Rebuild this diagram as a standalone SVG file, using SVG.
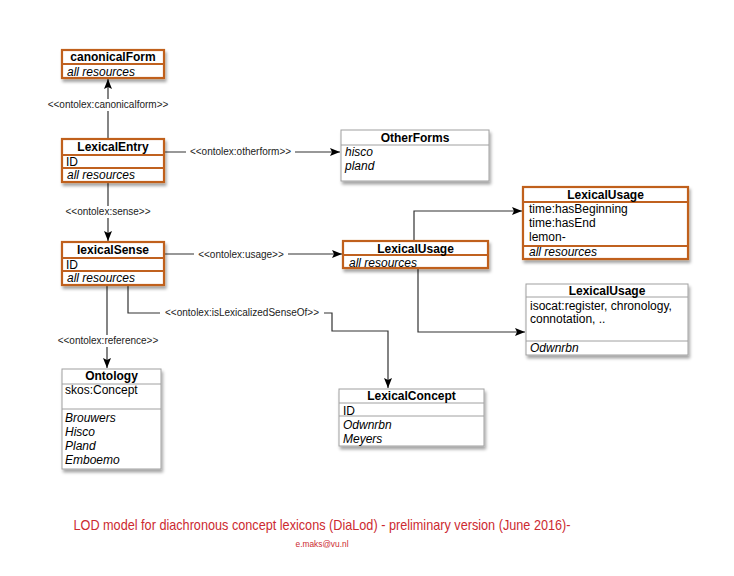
<svg xmlns="http://www.w3.org/2000/svg" width="734" height="576" viewBox="0 0 734 576">
<style>
  text { font-family: "Liberation Sans", Arial, Helvetica, sans-serif; fill: #000; }
  .t { font-size: 12px; font-weight: bold; text-anchor: middle; }
  .f { font-size: 12px; }
  .i { font-size: 12px; font-style: italic; }
  .lbl { font-size: 10px; text-anchor: middle; fill: #222; }
  .box-o { fill: #fff; stroke: #c0611f; stroke-width: 2.2; }
  .div-o { stroke: #c0611f; stroke-width: 2; }
  .box-g { fill: #fff; stroke: #a0a0a0; stroke-width: 1; }
  .div-g { stroke: #a0a0a0; stroke-width: 1; }
  .con { fill: none; stroke: #333; stroke-width: 1.2; }
  .bg { fill: #fff; }
  .cap { font-size: 15px; fill: #cc2a30; text-anchor: middle; }
  .mail { font-size: 9.5px; fill: #cc2a30; text-anchor: middle; }
</style>
<defs>
  <filter id="sh" x="-10%" y="-10%" width="125%" height="140%">
    <feDropShadow dx="1.5" dy="3" stdDeviation="1.8" flood-color="#000" flood-opacity="0.35"/>
  </filter>
  <marker id="arr" viewBox="0 0 10 8" refX="10" refY="4" markerWidth="10" markerHeight="8" markerUnits="userSpaceOnUse" orient="auto">
    <path d="M0,0 L10,4 L0,8 L2,4 z" fill="#000"/>
  </marker>
</defs>
<rect width="734" height="576" fill="#fff"/>

<g id="connectors">
  <path class="con" d="M108,139 V79" marker-end="url(#arr)"/>
  <rect class="bg" x="45" y="99" width="126" height="12"/>
  <text class="lbl" x="108" y="108">&lt;&lt;ontolex:canonicalform&gt;&gt;</text>

  <path class="con" d="M164,152 H340" marker-end="url(#arr)"/>
  <rect class="bg" x="186" y="146" width="109" height="12"/>
  <text class="lbl" x="240.5" y="155">&lt;&lt;ontolex:otherform&gt;&gt;</text>

  <path class="con" d="M108,182 V241" marker-end="url(#arr)"/>
  <rect class="bg" x="62" y="206" width="91" height="12"/>
  <text class="lbl" x="108" y="215">&lt;&lt;ontolex:sense&gt;&gt;</text>

  <path class="con" d="M164,254 H342" marker-end="url(#arr)"/>
  <rect class="bg" x="194" y="248" width="94" height="12"/>
  <text class="lbl" x="241" y="258">&lt;&lt;ontolex:usage&gt;&gt;</text>

  <path class="con" d="M414,241 V211 H522" marker-end="url(#arr)"/>
  <path class="con" d="M418,268 V332 H525" marker-end="url(#arr)"/>

  <path class="con" d="M107,285 V368" marker-end="url(#arr)"/>
  <rect class="bg" x="55" y="335" width="106" height="12"/>
  <text class="lbl" x="108" y="344">&lt;&lt;ontolex:reference&gt;&gt;</text>

  <path class="con" d="M128,285 V313 H332 V331 H388 V388" marker-end="url(#arr)"/>
  <rect class="bg" x="160" y="307" width="164" height="12"/>
  <text class="lbl" x="242" y="316">&lt;&lt;ontolex:isLexicalizedSenseOf&gt;&gt;</text>
</g>

<g id="canonicalForm">
  <rect class="box-o" x="62" y="50" width="102" height="28" filter="url(#sh)"/>
  <line class="div-o" x1="62" y1="64" x2="164" y2="64"/>
  <text class="t" x="113" y="61">canonicalForm</text>
  <text class="i" x="67" y="76">all resources</text>
</g>

<g id="LexicalEntry">
  <rect class="box-o" x="62" y="139" width="102" height="43" filter="url(#sh)"/>
  <line class="div-o" x1="62" y1="155" x2="164" y2="155"/>
  <line class="div-o" x1="62" y1="168" x2="164" y2="168"/>
  <text class="t" x="113" y="151">LexicalEntry</text>
  <text class="f" x="66" y="166">ID</text>
  <text class="i" x="67" y="179">all resources</text>
</g>

<g id="lexicalSense">
  <rect class="box-o" x="62" y="242" width="102" height="43" filter="url(#sh)"/>
  <line class="div-o" x1="62" y1="258" x2="164" y2="258"/>
  <line class="div-o" x1="62" y1="271" x2="164" y2="271"/>
  <text class="t" x="113" y="254">lexicalSense</text>
  <text class="f" x="66" y="269">ID</text>
  <text class="i" x="67" y="282">all resources</text>
</g>

<g id="OtherForms">
  <rect class="box-g" x="341" y="130" width="148" height="51" filter="url(#sh)"/>
  <line class="div-g" x1="341" y1="145" x2="489" y2="145"/>
  <text class="t" x="415" y="142">OtherForms</text>
  <text class="i" x="345" y="156">hisco</text>
  <text class="i" x="345" y="170">pland</text>
</g>

<g id="LexicalUsage1">
  <rect class="box-o" x="523" y="187" width="165" height="72" filter="url(#sh)"/>
  <line class="div-o" x1="523" y1="202" x2="688" y2="202"/>
  <line class="div-o" x1="523" y1="246" x2="688" y2="246"/>
  <text class="t" x="605.5" y="199">LexicalUsage</text>
  <text class="f" x="529" y="213">time:hasBeginning</text>
  <text class="f" x="529" y="227">time:hasEnd</text>
  <text class="f" x="529" y="241">lemon-</text>
  <text class="i" x="529" y="256">all resources</text>
</g>

<g id="LexicalUsage2">
  <rect class="box-o" x="343" y="241" width="145" height="27" filter="url(#sh)"/>
  <line class="div-o" x1="343" y1="255" x2="488" y2="255"/>
  <text class="t" x="415.5" y="253">LexicalUsage</text>
  <text class="i" x="349" y="267">all resources</text>
</g>

<g id="LexicalUsage3">
  <rect class="box-g" x="526" y="284" width="162" height="71" filter="url(#sh)"/>
  <line class="div-g" x1="526" y1="297" x2="688" y2="297"/>
  <line class="div-g" x1="526" y1="341" x2="688" y2="341"/>
  <text class="t" x="607" y="295">LexicalUsage</text>
  <text class="f" x="530" y="310">isocat:register, chronology,</text>
  <text class="f" x="530" y="323">connotation, ..</text>
  <text class="i" x="530" y="352">Odwnrbn</text>
</g>

<g id="Ontology">
  <rect class="box-g" x="62" y="369" width="99" height="100" filter="url(#sh)"/>
  <line class="div-g" x1="62" y1="384" x2="161" y2="384"/>
  <line class="div-g" x1="62" y1="409" x2="161" y2="409"/>
  <text class="t" x="111.5" y="380">Ontology</text>
  <text class="f" x="65" y="394">skos:Concept</text>
  <text class="i" x="65" y="422">Brouwers</text>
  <text class="i" x="65" y="436">Hisco</text>
  <text class="i" x="65" y="450">Pland</text>
  <text class="i" x="65" y="464">Emboemo</text>
</g>

<g id="LexicalConcept">
  <rect class="box-g" x="339" y="389" width="145" height="57" filter="url(#sh)"/>
  <line class="div-g" x1="339" y1="403" x2="484" y2="403"/>
  <line class="div-g" x1="339" y1="416" x2="484" y2="416"/>
  <text class="t" x="411.5" y="400">LexicalConcept</text>
  <text class="f" x="343" y="415">ID</text>
  <text class="i" x="343" y="429">Odwnrbn</text>
  <text class="i" x="343" y="443">Meyers</text>
</g>

<g id="caption">
  <text class="cap" x="322" y="530" textLength="497" lengthAdjust="spacingAndGlyphs">LOD model for diachronous concept lexicons (DiaLod) - preliminary version (June 2016)-</text>
  <text class="mail" x="322" y="547" textLength="53" lengthAdjust="spacingAndGlyphs">e.maks@vu.nl</text>
</g>
</svg>
